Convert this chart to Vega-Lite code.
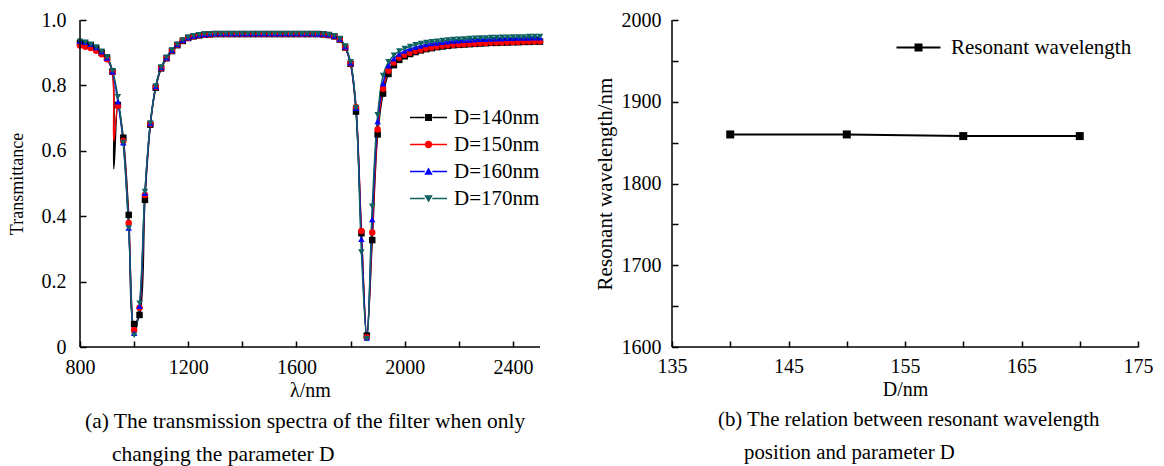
{
  "$schema": "https://vega.github.io/schema/vega-lite/v6.json",
  "background": "white",
  "padding": {"left": 8, "top": 10, "right": 0, "bottom": 0},
  "spacing": 50,
  "resolve": {"scale": {"color": "independent"}, "legend": {"color": "independent"}},
  "config": {
    "view": {"stroke": null},
    "font": "Liberation Serif",
    "axis": {"grid": false, "domain": false, "offset": -6, "tickSize": 6, "tickColor": "black", "tickWidth": 1.5, "labelColor": "black", "labelFont": "Liberation Serif", "labelFontSize": 20, "titleFont": "Liberation Serif", "titleFontWeight": "normal", "titleColor": "black", "labelFlush": false, "labelOverlap": false},
    "legend": {"labelFont": "Liberation Serif", "labelFontSize": 21, "labelColor": "black", "title": null, "labelLimit": 400}
  },
  "datasets": {
    "spectra": [
      {"wl": 800, "D140": 0.930, "D150": 0.922, "D160": 0.935, "D170": 0.935},
      {"wl": 820, "D140": 0.927, "D150": 0.918, "D160": 0.932, "D170": 0.932},
      {"wl": 840, "D140": 0.922, "D150": 0.914, "D160": 0.926, "D170": 0.926},
      {"wl": 860, "D140": 0.913, "D150": 0.906, "D160": 0.916, "D170": 0.917},
      {"wl": 880, "D140": 0.900, "D150": 0.895, "D160": 0.903, "D170": 0.904},
      {"wl": 900, "D140": 0.885, "D150": 0.880, "D160": 0.884, "D170": 0.886},
      {"wl": 920, "D140": 0.842, "D150": 0.840, "D160": 0.842, "D170": 0.845},
      {"wl": 925, "D140": 0.545, "D150": 0.630, "D160": null, "D170": null},
      {"wl": 940, "D140": 0.740, "D150": 0.738, "D160": 0.750, "D170": 0.765},
      {"wl": 960, "D140": 0.640, "D150": 0.630, "D160": 0.625, "D170": 0.625},
      {"wl": 980, "D140": 0.404, "D150": 0.379, "D160": 0.364, "D170": 0.364},
      {"wl": 1000, "D140": 0.070, "D150": 0.052, "D160": 0.042, "D170": 0.036},
      {"wl": 1020, "D140": 0.098, "D150": 0.120, "D160": 0.125, "D170": 0.134},
      {"wl": 1040, "D140": 0.450, "D150": 0.465, "D160": 0.470, "D170": 0.475},
      {"wl": 1060, "D140": 0.680, "D150": 0.682, "D160": 0.684, "D170": 0.685},
      {"wl": 1080, "D140": 0.793, "D150": 0.795, "D160": 0.797, "D170": 0.798},
      {"wl": 1100, "D140": 0.852, "D150": 0.853, "D160": 0.855, "D170": 0.856},
      {"wl": 1120, "D140": 0.883, "D150": 0.884, "D160": 0.885, "D170": 0.886},
      {"wl": 1140, "D140": 0.905, "D150": 0.906, "D160": 0.907, "D170": 0.908},
      {"wl": 1160, "D140": 0.923, "D150": 0.924, "D160": 0.925, "D170": 0.926},
      {"wl": 1180, "D140": 0.936, "D150": 0.937, "D160": 0.938, "D170": 0.939},
      {"wl": 1200, "D140": 0.945, "D150": 0.945, "D160": 0.946, "D170": 0.947},
      {"wl": 1220, "D140": 0.950, "D150": 0.950, "D160": 0.951, "D170": 0.952},
      {"wl": 1240, "D140": 0.953, "D150": 0.953, "D160": 0.954, "D170": 0.955},
      {"wl": 1260, "D140": 0.955, "D150": 0.955, "D160": 0.956, "D170": 0.957},
      {"wl": 1280, "D140": 0.956, "D150": 0.956, "D160": 0.957, "D170": 0.957},
      {"wl": 1300, "D140": 0.957, "D150": 0.957, "D160": 0.958, "D170": 0.958},
      {"wl": 1320, "D140": 0.957, "D150": 0.957, "D160": 0.958, "D170": 0.958},
      {"wl": 1340, "D140": 0.957, "D150": 0.957, "D160": 0.958, "D170": 0.958},
      {"wl": 1360, "D140": 0.957, "D150": 0.957, "D160": 0.958, "D170": 0.958},
      {"wl": 1380, "D140": 0.957, "D150": 0.957, "D160": 0.958, "D170": 0.958},
      {"wl": 1400, "D140": 0.957, "D150": 0.957, "D160": 0.958, "D170": 0.958},
      {"wl": 1420, "D140": 0.957, "D150": 0.957, "D160": 0.958, "D170": 0.958},
      {"wl": 1440, "D140": 0.957, "D150": 0.957, "D160": 0.958, "D170": 0.958},
      {"wl": 1460, "D140": 0.957, "D150": 0.957, "D160": 0.958, "D170": 0.958},
      {"wl": 1480, "D140": 0.957, "D150": 0.957, "D160": 0.958, "D170": 0.958},
      {"wl": 1500, "D140": 0.957, "D150": 0.957, "D160": 0.958, "D170": 0.958},
      {"wl": 1520, "D140": 0.957, "D150": 0.957, "D160": 0.958, "D170": 0.958},
      {"wl": 1540, "D140": 0.957, "D150": 0.957, "D160": 0.958, "D170": 0.958},
      {"wl": 1560, "D140": 0.957, "D150": 0.957, "D160": 0.958, "D170": 0.958},
      {"wl": 1580, "D140": 0.957, "D150": 0.957, "D160": 0.958, "D170": 0.958},
      {"wl": 1600, "D140": 0.957, "D150": 0.957, "D160": 0.958, "D170": 0.958},
      {"wl": 1620, "D140": 0.957, "D150": 0.957, "D160": 0.958, "D170": 0.958},
      {"wl": 1640, "D140": 0.957, "D150": 0.957, "D160": 0.958, "D170": 0.958},
      {"wl": 1660, "D140": 0.957, "D150": 0.957, "D160": 0.958, "D170": 0.958},
      {"wl": 1680, "D140": 0.957, "D150": 0.957, "D160": 0.957, "D170": 0.958},
      {"wl": 1700, "D140": 0.956, "D150": 0.956, "D160": 0.957, "D170": 0.957},
      {"wl": 1720, "D140": 0.954, "D150": 0.954, "D160": 0.955, "D170": 0.955},
      {"wl": 1740, "D140": 0.950, "D150": 0.950, "D160": 0.951, "D170": 0.952},
      {"wl": 1760, "D140": 0.940, "D150": 0.940, "D160": 0.942, "D170": 0.943},
      {"wl": 1780, "D140": 0.916, "D150": 0.916, "D160": 0.918, "D170": 0.920},
      {"wl": 1800, "D140": 0.866, "D150": 0.867, "D160": 0.869, "D170": 0.872},
      {"wl": 1820, "D140": 0.720, "D150": 0.733, "D160": 0.730, "D170": 0.732},
      {"wl": 1840, "D140": 0.348, "D150": 0.355, "D160": 0.330, "D170": 0.290},
      {"wl": 1860, "D140": 0.035, "D150": 0.030, "D160": 0.028, "D170": 0.025},
      {"wl": 1880, "D140": 0.327, "D150": 0.350, "D160": 0.390, "D170": 0.430},
      {"wl": 1900, "D140": 0.650, "D150": 0.665, "D160": 0.690, "D170": 0.710},
      {"wl": 1920, "D140": 0.775, "D150": 0.790, "D160": 0.805, "D170": 0.830},
      {"wl": 1940, "D140": 0.835, "D150": 0.845, "D160": 0.860, "D170": 0.872},
      {"wl": 1960, "D140": 0.862, "D150": 0.870, "D160": 0.882, "D170": 0.892},
      {"wl": 1980, "D140": 0.878, "D150": 0.885, "D160": 0.896, "D170": 0.905},
      {"wl": 2000, "D140": 0.889, "D150": 0.894, "D160": 0.905, "D170": 0.913},
      {"wl": 2020, "D140": 0.896, "D150": 0.900, "D160": 0.912, "D170": 0.919},
      {"wl": 2040, "D140": 0.902, "D150": 0.905, "D160": 0.917, "D170": 0.924},
      {"wl": 2060, "D140": 0.907, "D150": 0.909, "D160": 0.921, "D170": 0.928},
      {"wl": 2080, "D140": 0.911, "D150": 0.913, "D160": 0.925, "D170": 0.931},
      {"wl": 2100, "D140": 0.914, "D150": 0.916, "D160": 0.928, "D170": 0.933},
      {"wl": 2120, "D140": 0.917, "D150": 0.919, "D160": 0.930, "D170": 0.935},
      {"wl": 2140, "D140": 0.919, "D150": 0.921, "D160": 0.932, "D170": 0.937},
      {"wl": 2160, "D140": 0.921, "D150": 0.923, "D160": 0.934, "D170": 0.939},
      {"wl": 2180, "D140": 0.923, "D150": 0.924, "D160": 0.936, "D170": 0.940},
      {"wl": 2200, "D140": 0.924, "D150": 0.925, "D160": 0.937, "D170": 0.941},
      {"wl": 2220, "D140": 0.925, "D150": 0.926, "D160": 0.938, "D170": 0.942},
      {"wl": 2240, "D140": 0.926, "D150": 0.927, "D160": 0.939, "D170": 0.943},
      {"wl": 2260, "D140": 0.927, "D150": 0.928, "D160": 0.940, "D170": 0.944},
      {"wl": 2280, "D140": 0.928, "D150": 0.929, "D160": 0.941, "D170": 0.945},
      {"wl": 2300, "D140": 0.929, "D150": 0.930, "D160": 0.941, "D170": 0.945},
      {"wl": 2320, "D140": 0.930, "D150": 0.931, "D160": 0.942, "D170": 0.946},
      {"wl": 2340, "D140": 0.930, "D150": 0.931, "D160": 0.943, "D170": 0.946},
      {"wl": 2360, "D140": 0.931, "D150": 0.932, "D160": 0.943, "D170": 0.947},
      {"wl": 2380, "D140": 0.931, "D150": 0.932, "D160": 0.944, "D170": 0.947},
      {"wl": 2400, "D140": 0.932, "D150": 0.933, "D160": 0.944, "D170": 0.948},
      {"wl": 2420, "D140": 0.932, "D150": 0.933, "D160": 0.945, "D170": 0.948},
      {"wl": 2440, "D140": 0.933, "D150": 0.934, "D160": 0.945, "D170": 0.948},
      {"wl": 2460, "D140": 0.933, "D150": 0.934, "D160": 0.945, "D170": 0.949},
      {"wl": 2480, "D140": 0.934, "D150": 0.935, "D160": 0.946, "D170": 0.949},
      {"wl": 2500, "D140": 0.934, "D150": 0.935, "D160": 0.946, "D170": 0.949}
    ],
    "res": [
      {"D": 140, "wavelength": 1860, "series": "Resonant wavelength"},
      {"D": 150, "wavelength": 1860, "series": "Resonant wavelength"},
      {"D": 160, "wavelength": 1858, "series": "Resonant wavelength"},
      {"D": 170, "wavelength": 1858, "series": "Resonant wavelength"}
    ]
  },
  "hconcat": [
    {
      "width": 460,
      "height": 327,
      "title": {"text": ["(a) The transmission spectra of the filter when only", "\u200b\u00a0\u00a0\u00a0\u00a0\u00a0changing the parameter D"], "orient": "bottom", "anchor": "start", "frame": "group", "dx": 5, "offset": 11, "fontSize": 21.5, "lineHeight": 33, "font": "Liberation Serif", "fontWeight": "normal", "color": "black"},
      "layer": [
        {
          "data": {"name": "spectra"},
          "transform": [{"fold": ["D140", "D150", "D160", "D170"], "as": ["series", "T"]}, {"filter": "isValid(datum.T)"}],
          "mark": {"type": "line", "strokeWidth": 1.5, "interpolate": "catmull-rom"},
          "encoding": {
            "x": {"field": "wl", "type": "quantitative", "title": "λ/nm", "scale": {"domain": [800, 2500], "nice": false},
              "axis": {"title": "λ/nm", "titleFontSize": 20, "titlePadding": 3, "values": [800,900,1000,1100,1200,1300,1400,1500,1600,1700,1800,1900,2000,2100,2200,2300,2400,2500], "format": "d", "labelExpr": "datum.value % 400 === 0 ? datum.label : ''", "labelPadding": 10}},
            "y": {"field": "T", "type": "quantitative", "title": "Transmittance", "scale": {"domain": [0, 1], "nice": false},
              "axis": {"title": "Transmittance", "titleFontSize": 18, "titlePadding": 15, "values": [0,0.1,0.2,0.3,0.4,0.5,0.6,0.7,0.8,0.9,1.0], "labelExpr": "datum.value === 0 ? '0' : (round(datum.value*10) % 2 === 0 ? format(datum.value, '.1f') : '')", "labelPadding": 14}},
            "color": {"field": "series", "type": "nominal", "scale": {"domain": ["D140", "D150", "D160", "D170"], "range": ["#000000", "#ff0000", "#0000ff", "#0f6262"]},
              "legend": {"orient": "none", "legendX": 338, "legendY": 87, "symbolSize": 100, "labelOffset": 15, "rowPadding": 5, "labelFontSize": 21,
                "labelExpr": "'D=' + slice(datum.label, 1) + 'nm'",
                "encode": {"symbols": {"update": {
                  "shape": {"signal": "datum.value === 'D140' ? 'M-3.7,-0.15H-0.75V0.15H-3.7Z M0.75,-0.15H3.7V0.15H0.75Z M-0.7,-0.7H0.7V0.7H-0.7Z' : datum.value === 'D150' ? 'M-3.7,-0.15H-0.75V0.15H-3.7Z M0.75,-0.15H3.7V0.15H0.75Z M-0.75,0A0.75,0.75 0 1,0 0.75,0A0.75,0.75 0 1,0 -0.75,0Z' : datum.value === 'D160' ? 'M-3.7,-0.15H-0.75V0.15H-3.7Z M0.75,-0.15H3.7V0.15H0.75Z M0,-0.8L0.85,0.65H-0.85Z' : 'M-3.7,-0.15H-0.75V0.15H-3.7Z M0.75,-0.15H3.7V0.15H0.75Z M0,0.8L0.85,-0.65H-0.85Z'"},
                  "fill": {"signal": "datum.value === 'D140' ? '#000000' : datum.value === 'D150' ? '#ff0000' : datum.value === 'D160' ? '#0000ff' : '#0f6262'"},
                  "strokeWidth": {"value": 0},
                  "size": {"value": 100},
                  "opacity": {"value": 1}
                }}}}}
          }
        },
        {
          "data": {"name": "spectra"},
          "transform": [{"fold": ["D140", "D150", "D160", "D170"], "as": ["series", "T"]}, {"filter": "isValid(datum.T) && datum.wl != 925"}],
          "mark": {"type": "point", "filled": true, "size": 42, "opacity": 1, "strokeWidth": 0},
          "encoding": {
            "x": {"field": "wl", "type": "quantitative", "title": "λ/nm", "scale": {"domain": [800, 2500], "nice": false}},
            "y": {"field": "T", "type": "quantitative", "title": "Transmittance", "scale": {"domain": [0, 1], "nice": false}},
            "fill": {"field": "series", "type": "nominal", "scale": {"domain": ["D140", "D150", "D160", "D170"], "range": ["#000000", "#ff0000", "#0000ff", "#0f6262"]}, "legend": null},
            "shape": {"field": "series", "type": "nominal", "scale": {"domain": ["D140", "D150", "D160", "D170"], "range": ["square", "circle", "triangle-up", "triangle-down"]}, "legend": null}
          }
        },
        {
          "data": {"values": [{"wl": 800}]},
          "mark": {"type": "rule", "color": "black", "strokeWidth": 1.5},
          "encoding": {"x": {"field": "wl", "type": "quantitative", "title": "λ/nm", "scale": {"domain": [800, 2500], "nice": false}}}
        },
        {
          "data": {"values": [{"T": 0}]},
          "mark": {"type": "rule", "color": "black", "strokeWidth": 1.5},
          "encoding": {"y": {"field": "T", "type": "quantitative", "title": "Transmittance", "scale": {"domain": [0, 1], "nice": false}}}
        }
      ]
    },
    {
      "width": 466,
      "height": 327,
      "title": {"text": ["(b) The relation between resonant wavelength", "\u200b\u00a0\u00a0\u00a0\u00a0\u00a0position and parameter D"], "orient": "bottom", "anchor": "start", "frame": "group", "dx": 46, "offset": 11, "fontSize": 20.8, "lineHeight": 33, "font": "Liberation Serif", "fontWeight": "normal", "color": "black"},
      "layer": [
        {
          "data": {"name": "res"},
          "mark": {"type": "line", "strokeWidth": 2},
          "encoding": {
            "x": {"field": "D", "type": "quantitative", "title": "D/nm", "scale": {"domain": [135, 175], "nice": false},
              "axis": {"title": "D/nm", "titleFontSize": 20, "titlePadding": 3, "values": [135,137.5,140,142.5,145,147.5,150,152.5,155,157.5,160,162.5,165,167.5,170,172.5,175], "labelExpr": "(datum.value - 135) % 10 === 0 ? datum.label : ''", "labelPadding": 9}},
            "y": {"field": "wavelength", "type": "quantitative", "title": "Resonant wavelength/nm", "scale": {"domain": [1600, 2000], "nice": false, "zero": false},
              "axis": {"title": "Resonant wavelength/nm", "titleFontSize": 21, "titlePadding": 6, "values": [1600,1650,1700,1750,1800,1850,1900,1950,2000], "format": "d", "labelExpr": "datum.value % 100 === 0 ? datum.label : ''", "labelPadding": 11}},
            "color": {"field": "series", "type": "nominal", "scale": {"domain": ["Resonant wavelength"], "range": ["#000000"]},
              "legend": {"orient": "none", "legendX": 236, "legendY": 17, "symbolSize": 100, "labelOffset": 22, "labelFontSize": 21, "labelLimit": 400,
                "encode": {"symbols": {"update": {
                  "shape": {"value": "M-4.4,-0.2H-0.8V0.2H-4.4Z M0.8,-0.2H4.4V0.2H0.8Z M-0.8,-0.8H0.8V0.8H-0.8Z"},
                  "fill": {"value": "#000000"},
                  "strokeWidth": {"value": 0},
                  "size": {"value": 100},
                  "opacity": {"value": 1}
                }}}}}
          }
        },
        {
          "data": {"name": "res"},
          "mark": {"type": "point", "shape": "square", "filled": true, "size": 64, "opacity": 1, "fill": "#000000", "strokeWidth": 0},
          "encoding": {
            "x": {"field": "D", "type": "quantitative", "title": "D/nm", "scale": {"domain": [135, 175], "nice": false}},
            "y": {"field": "wavelength", "type": "quantitative", "title": "Resonant wavelength/nm", "scale": {"domain": [1600, 2000], "nice": false, "zero": false}}
          }
        },
        {
          "data": {"values": [{"D": 135}]},
          "mark": {"type": "rule", "color": "black", "strokeWidth": 1.5},
          "encoding": {"x": {"field": "D", "type": "quantitative", "title": "D/nm", "scale": {"domain": [135, 175], "nice": false}}}
        },
        {
          "data": {"values": [{"wavelength": 1600}]},
          "mark": {"type": "rule", "color": "black", "strokeWidth": 1.5},
          "encoding": {"y": {"field": "wavelength", "type": "quantitative", "title": "Resonant wavelength/nm", "scale": {"domain": [1600, 2000], "nice": false, "zero": false}}}
        }
      ]
    }
  ]
}
